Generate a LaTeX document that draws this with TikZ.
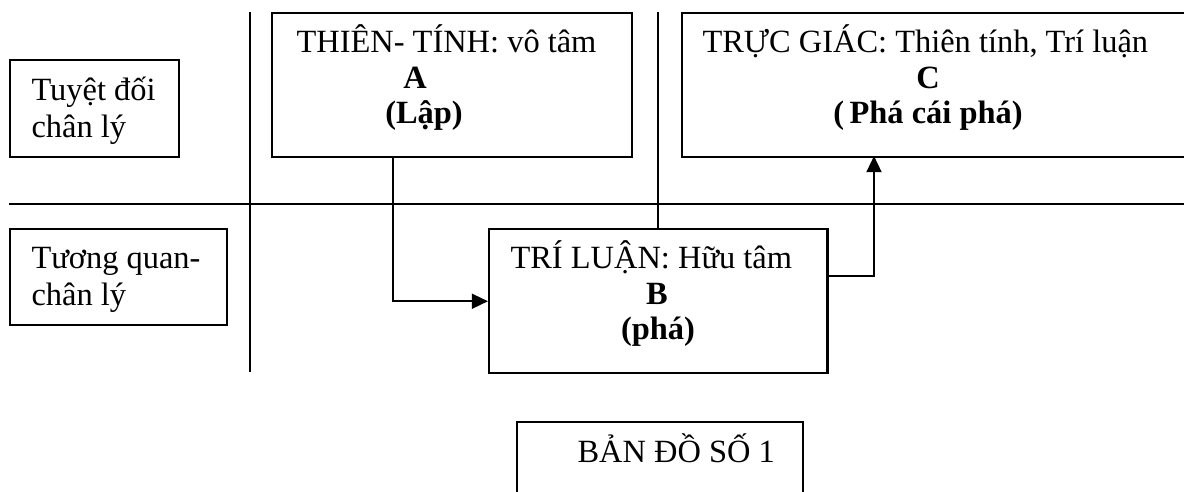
\documentclass[tikz,border=0pt]{standalone}
\usepackage{fontspec}
\setmainfont{Liberation Serif}
\usepackage{tikz}
\usetikzlibrary{positioning, calc, arrows.meta}

\tikzset{
  box/.style={draw, line width=0.9pt, rectangle, inner sep=0pt, anchor=north west},
  rule/.style={line width=0.9pt},
  txt/.style={anchor=base west, inner sep=0pt, font=\fontsize{12}{14}\selectfont},
  mid/.style={anchor=base, inner sep=0pt, font=\fontsize{12}{14}\selectfont\bfseries},
  conn/.style={line width=0.9pt, -{Triangle[length=6pt,width=5.5pt]}}
}

\begin{document}
\begin{tikzpicture}[x=0.37pt, y=-0.37pt]
  \useasboundingbox (0,0) rectangle (1184,491);
  \clip (0,0) rectangle (1184,491);

  % grid lines
  \coordinate (vTop1) at (250,12);
  \coordinate (vBot1) at (250,372);
  \coordinate (vTop2) at (658,12);
  \coordinate (hLeft) at (9,204);
  \coordinate (hRight) at (1184,204);
  \draw[rule] (hLeft) -- (hRight);
  \draw[rule] (vTop1) -- (vBot1);

  % boxes
  \node[box, minimum width=62.5pt, minimum height=35.9pt] (tuyet) at (9,59) {};
  \node[box, minimum width=80.3pt, minimum height=35.5pt] (tuongquan) at (9,228) {};
  \node[box, minimum width=133.2pt, minimum height=53.3pt] (thien) at (271,12) {};
  \node[box, minimum width=220pt, minimum height=53.3pt] (trucgiac) at (681,12) {};
  \node[box, minimum width=125.1pt, minimum height=53.3pt] (triluan) at (488,228) {};
  \node[box, minimum width=105.8pt, minimum height=29.2pt] (bando) at (516,421) {};

  \draw[rule] (vTop2) -- (vTop2 |- triluan.north);

  % texts
  \node[txt] (tuyetA) at (31,100) {Tuyệt đối};
  \node[txt] (tuyetB) at (31,137) {chân lý};
  \node[txt] (tuongA) at (31,268) {Tương quan-};
  \node[txt] (tuongB) at (31,305) {chân lý};

  \node[txt] (thienA) at (296,52) {THIÊN- TÍNH: vô tâm};
  \node[mid] (thienB) at (415,88) {A};
  \node[mid] (thienC) at (424,123) {(Lập)};

  \node[txt] (trucA) at (702,52) {TRỰC GIÁC: Thiên tính, Trí luận};
  \node[mid] (trucB) at (928,88) {C};
  \node[mid] (trucC) at (928,123) {(\,Phá cái phá)};

  \node[txt] (triA) at (510,268) {TRÍ LUẬN: Hữu tâm};
  \node[mid] (triB) at (657,304) {B};
  \node[mid] (triC) at (658,339) {(phá)};

  \node[txt] (bandoA) at (577,462) {BẢN ĐỒ SỐ 1};

  % arrows
  \coordinate (aOut) at (393,156);
  \coordinate (bOut) at (826,276);
  \coordinate (cIn) at (874,156);
  \draw[conn] (aOut) |- (triluan.west);
  \draw[conn] (bOut) -| (cIn);
\end{tikzpicture}
\end{document}
